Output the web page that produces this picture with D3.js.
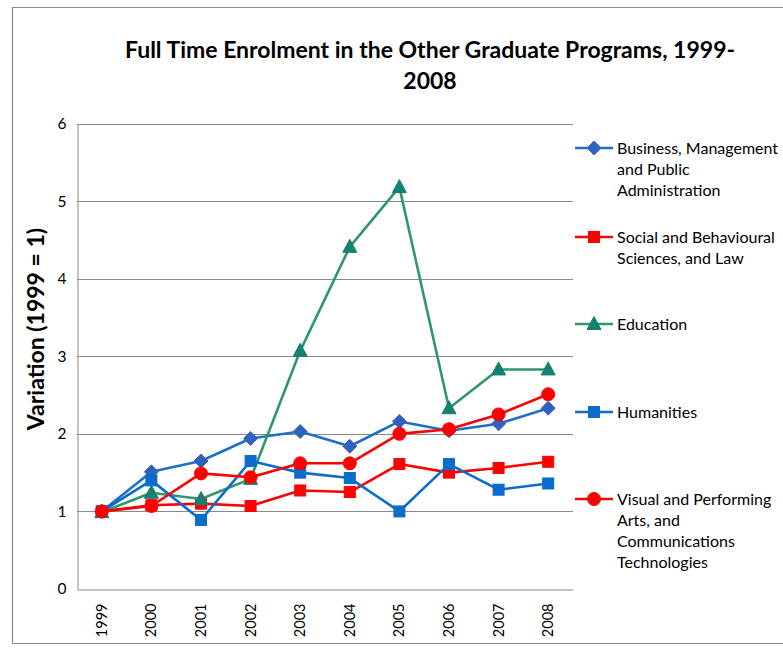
<!DOCTYPE html>
<html>
<head>
<meta charset="utf-8">
<script src="https://cdn.jsdelivr.net/npm/d3@7"></script>
<style>
  html, body { margin: 0; padding: 0; background: #fff; }
  svg { display: block; }
  text { font-family: Lato, "Open Sans", sans-serif; fill: #000; }
</style>
</head>
<body>
<svg id="chart" width="783" height="650"></svg>
<script>
// Index of full-time enrolment, 1999 = 1
const years = ["1999","2000","2001","2002","2003","2004","2005","2006","2007","2008"];
const yTicks = [0, 1, 2, 3, 4, 5, 6];

const business   = [1.00, 1.51, 1.65, 1.94, 2.03, 1.84, 2.16, 2.04, 2.13, 2.33];
const social     = [1.00, 1.08, 1.10, 1.07, 1.27, 1.25, 1.61, 1.50, 1.56, 1.64];
const education  = [0.99, 1.24, 1.16, 1.42, 3.07, 4.41, 5.18, 2.33, 2.83, 2.83];
const humanities = [1.00, 1.40, 0.89, 1.65, 1.50, 1.43, 1.00, 1.61, 1.28, 1.36];
const visual     = [1.00, 1.07, 1.49, 1.44, 1.62, 1.62, 2.00, 2.06, 2.25, 2.51];

const seriesNames = [
  ["Business, Management", "and Public", "Administration"],
  ["Social and Behavioural", "Sciences, and Law"],
  ["Education"],
  ["Humanities"],
  ["Visual and Performing", "Arts, and", "Communications", "Technologies"]
];

const series = [
  { values: business,   name: seriesNames[0], line: "#1F6FC9", fill: "#2E62C0", stroke: "#5060A8", marker: "diamond" },
  { values: social,     name: seriesNames[1], line: "#FF0000", fill: "#FF0000", stroke: "#FF0000", marker: "square" },
  { values: education,  name: seriesNames[2], line: "#2E9868", fill: "#14806F", stroke: "#14806F", marker: "triangle" },
  { values: humanities, name: seriesNames[3], line: "#0A6CCB", fill: "#0A6CCB", stroke: "#0A6CCB", marker: "square" },
  { values: visual,     name: seriesNames[4], line: "#FF0000", fill: "#FF0000", stroke: "#FF0000", marker: "circle" }
];

const svg = d3.select("#chart");
const plot = { left: 77, top: 123.5, right: 573, bottom: 589 };

// Outer chart frame
svg.append("path")
  .attr("d", "M783,7.5 H12.5 V643.5 H783")
  .attr("fill", "none").attr("stroke", "#8c8c8c").attr("stroke-width", 1.2);

const x = d3.scaleBand().domain(years).range([plot.left, plot.right]);
const y = d3.scaleLinear().domain([0, 6]).range([plot.bottom, plot.top]);

// Horizontal gridlines
svg.append("g").selectAll("line").data(yTicks.filter(t => t > 0)).join("line")
  .attr("x1", plot.left).attr("x2", plot.right)
  .attr("y1", d => Math.round(y(d)) + 0.5).attr("y2", d => Math.round(y(d)) + 0.5)
  .attr("stroke", "#8a8a8a").attr("stroke-width", 1);

// Y axis
const yAxis = svg.append("g")
  .attr("transform", `translate(${plot.left + 0.5},0)`)
  .call(d3.axisLeft(y).tickValues(yTicks).tickSize(0).tickPadding(11).tickFormat(d3.format("d")));
yAxis.select(".domain").attr("stroke", "#8a8a8a");
yAxis.selectAll("text").attr("font-size", 15.5).attr("font-family", "Lato, sans-serif").attr("fill", "#000");

// X axis with vertical year labels
const xAxis = svg.append("g")
  .attr("transform", `translate(0,${plot.bottom + 0.5})`)
  .call(d3.axisBottom(x).tickSize(0).tickPadding(0));
xAxis.select(".domain").attr("stroke", "#8a8a8a");
xAxis.selectAll("text")
  .attr("font-size", 14.5).attr("font-family", "Lato, sans-serif").attr("fill", "#000")
  .attr("transform", "rotate(-90)")
  .attr("text-anchor", "end")
  .attr("x", -14).attr("y", 0).attr("dy", "0.35em");

// Axis title
svg.append("text")
  .attr("transform", "translate(44,329) rotate(-90)")
  .attr("text-anchor", "middle")
  .attr("font-size", 23).attr("font-weight", "bold")
  .text("Variation (1999 = 1)");

// Chart title
const title = svg.append("text").attr("text-anchor", "middle").attr("font-size", 23).attr("font-weight", "bold");
title.append("tspan").attr("x", 430).attr("y", 58).text("Full Time Enrolment in the Other Graduate Programs, 1999-");
title.append("tspan").attr("x", 430).attr("y", 89).text("2008");

const cx = d => x(d) + x.bandwidth() / 2;

function drawMarker(g, type, px, py, s) {
  if (type === "circle") {
    g.append("circle").attr("cx", px).attr("cy", py).attr("r", 6.5)
      .attr("fill", s.fill).attr("stroke", s.stroke);
  } else if (type === "square") {
    g.append("rect").attr("x", px - 5.5).attr("y", py - 5.5).attr("width", 11).attr("height", 11)
      .attr("fill", s.fill).attr("stroke", s.stroke);
  } else if (type === "diamond") {
    g.append("path").attr("d", `M${px},${py - 7}L${px + 7},${py}L${px},${py + 7}L${px - 7},${py}Z`)
      .attr("fill", s.fill).attr("stroke", s.stroke);
  } else if (type === "triangle") {
    g.append("path").attr("d", `M${px},${py - 7.5}L${px + 7},${py + 5.5}L${px - 7},${py + 5.5}Z`)
      .attr("fill", s.fill).attr("stroke", s.stroke);
  }
}

const line = d3.line().x((d, i) => cx(years[i])).y(d => y(d));

series.forEach(s => {
  const g = svg.append("g");
  g.append("path").datum(s.values).attr("d", line)
    .attr("fill", "none").attr("stroke", s.line).attr("stroke-width", 2.6).attr("stroke-linejoin", "round");
  s.values.forEach((v, i) => drawMarker(g, s.marker, cx(years[i]), y(v), s));
});

// Legend
const legendY = [148, 237, 324, 412, 499];
series.forEach((s, k) => {
  const g = svg.append("g");
  const ly = legendY[k];
  g.append("line").attr("x1", 575).attr("x2", 613).attr("y1", ly).attr("y2", ly)
    .attr("stroke", s.line).attr("stroke-width", 2.6);
  drawMarker(g, s.marker, 594, ly, s);
  const t = g.append("text").attr("font-size", 16);
  s.name.forEach((ln, j) => {
    t.append("tspan").attr("x", 617).attr("y", ly + 5.5 + j * 21).text(ln);
  });
});
</script>
</body>
</html>
